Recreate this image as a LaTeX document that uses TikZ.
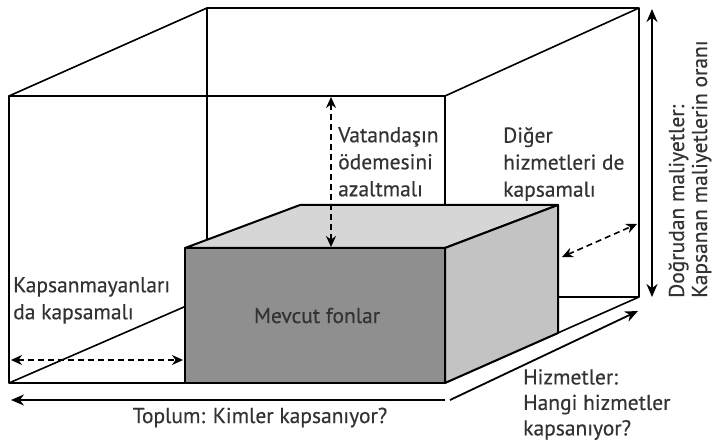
\documentclass[tikz,border=0pt]{standalone}
\usepackage{fontspec}
\setmainfont{PT Sans}[FakeBold=0.4]
\usetikzlibrary{arrows.meta}
\definecolor{ink}{HTML}{333333}
\definecolor{front}{HTML}{8F8F8F}
\definecolor{lid}{HTML}{D6D6D6}
\definecolor{side}{HTML}{C3C3C3}
\tikzset{edge/.style={draw=black,line width=1.6pt,line join=round},face/.style={draw=black,line width=2pt,line join=round},txt/.style={text=ink,font=\fontsize{21.5}{27}\selectfont,align=left,inner sep=0pt,anchor=north west},gap/.style={draw=black,line width=1.6pt,dash pattern=on 6pt off 4pt,{Stealth[length=11pt,width=10pt]}-{Stealth[length=11pt,width=10pt]}},axis/.style={draw=black,line width=1.8pt,-{Stealth[length=13pt,width=11pt]}}}

\begin{document}
\begin{tikzpicture}[x=1pt,y=-1pt]
\useasboundingbox (0,0) rectangle (712,443);
\coordinate (ftl) at (9,96);
\coordinate (ftr) at (445,96);
\coordinate (fbr) at (445,383);
\coordinate (fbl) at (9,383);
\coordinate (btl) at (207,8);
\coordinate (btr) at (639,8);
\coordinate (bbr) at (639,297);
\coordinate (bbl) at (207,297);
\draw[edge] (ftl) rectangle (fbr);
\draw[edge] (btl) rectangle (bbr);
\foreach \a/\b in {ftl/btl,ftr/btr,fbr/bbr,fbl/bbl}\draw[edge] (\a)--(\b);
\coordinate (ktl) at (185,248);
\coordinate (ktr) at (445,248);
\coordinate (kbl) at (300,205);
\coordinate (kbr) at (558,205);
\coordinate (kdr) at (558,333);
\draw[face,fill=lid] (ktl)--(ktr)--(kbr)--(kbl)--cycle;
\draw[face,fill=side] (ktr)--(kbr)--(kdr)--(fbr)--cycle;
\draw[face,fill=front] (ktl) rectangle (fbr);
\node[txt,anchor=base] (fonlar) at (317,323) {Mevcut fonlar};
\node[txt] (vatandas) at (338,127) {Vatandaşın\\ödemesini\\azaltmalı};
\node[txt] (diger) at (503,127) {Diğer\\hizmetleri de\\kapsamalı};
\node[txt] (kapsanmayan) at (13,277) {Kapsanmayanları\\da kapsamalı};
\node[txt,anchor=base] (toplum) at (260,423) {Toplum: Kimler kapsanıyor?};
\node[txt,font=\fontsize{21.5}{25.5}\selectfont] (hizmetler) at (523,369) {Hizmetler:\\Hangi hizmetler\\kapsanıyor?};
\node[txt,rotate=90,anchor=base west] (dogrudan) at (684,298) {Doğrudan maliyetler:};
\node[txt,rotate=90,anchor=base west] (oran) at (707,298) {Kapsanan maliyetlerin oranı};
\coordinate (vtop) at (331,97);
\coordinate (vbot) at (331,247);
\coordinate (hl) at (11,360);
\coordinate (hr) at (183,360);
\coordinate (dl) at (562,257);
\coordinate (dr) at (637,224);
\coordinate (mtop) at (652,9);
\coordinate (mbot) at (652,297);
\coordinate (tl) at (11,400);
\coordinate (tr) at (445,400);
\coordinate (hs) at (450,400);
\coordinate (he) at (638,311);
\draw[gap] (vtop)--(vbot);
\draw[gap] (hl)--(hr);
\draw[gap] (dl)--(dr);
\draw[axis,{Stealth[length=13pt,width=11pt]}-{Stealth[length=13pt,width=11pt]}] (mtop)--(mbot);
\draw[axis] (tr)--(tl);
\draw[axis] (hs)--(he);
\end{tikzpicture}
\end{document}
